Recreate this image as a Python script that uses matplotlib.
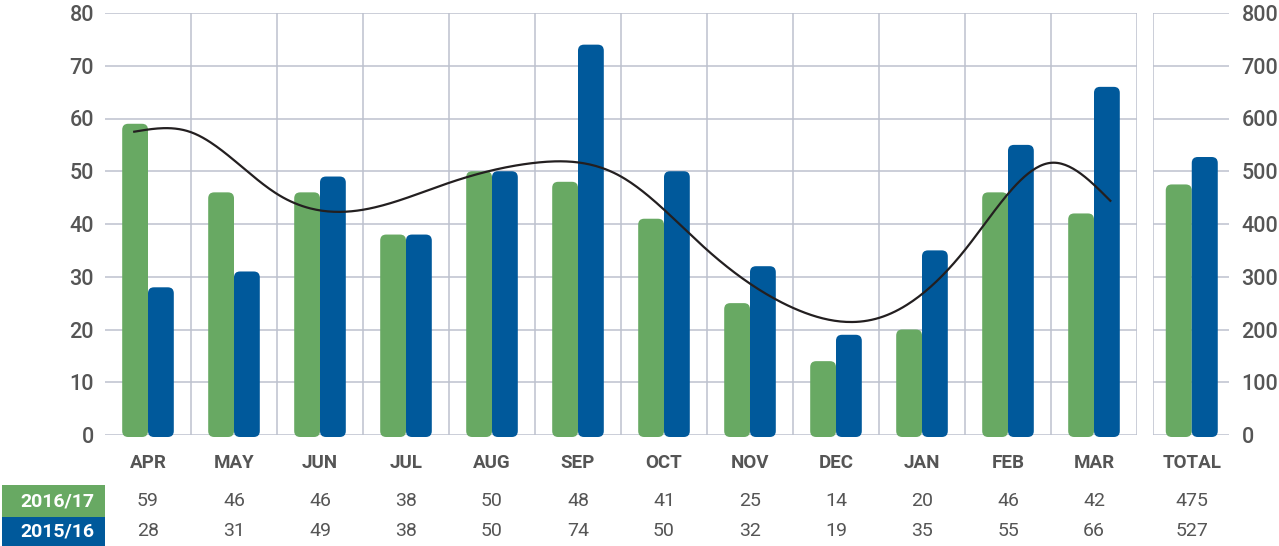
import matplotlib
matplotlib.use("Agg")
import matplotlib.pyplot as plt
from matplotlib.patches import FancyBboxPatch, Rectangle
import numpy as np

# data
months = ["APR", "MAY", "JUN", "JUL", "AUG", "SEP", "OCT", "NOV", "DEC", "JAN", "FEB", "MAR"]
series_names = ["2016/17", "2015/16"]
vals_1617 = [59, 46, 46, 38, 50, 48, 41, 25, 14, 20, 46, 42]
vals_1516 = [28, 31, 49, 38, 50, 74, 50, 32, 19, 35, 55, 66]
total_1617 = 475
total_1516 = 527

# trend line (x in category units, y on left scale)
trend_x = [-0.16, 0.5, 1.5, 2.5, 3.5, 4.5, 5.5, 6.5, 7.5, 8.5, 9.5, 10.5, 11.19]
trend_y = [57.5, 57.4, 45.7, 42.7, 47.8, 51.6, 49.0, 35.1, 24.1, 22.2, 35.1, 51.6, 44.4]

GREEN = "#68A963"
BLUE = "#00599B"
GRID = "#BDC1CE"
TEXT = "#555555"

W, H = 1279, 546
fig = plt.figure(figsize=(W / 100, H / 100), dpi=100)
plt.rcParams['font.family'] = ['Roboto', 'DejaVu Sans']


def fx(px):
    return px / W


def fy(py):
    return 1 - py / H


ax = fig.add_axes([fx(105), fy(435), fx(1137) - fx(105), fy(13) - fy(435)])
axt = fig.add_axes([fx(1153), fy(435), fx(1229) - fx(1153), fy(13) - fy(435)])

ax.set_xlim(-0.5, 11.5)
ax.set_ylim(0, 80)
axt.set_xlim(-0.5, 0.5)
axt.set_ylim(0, 800)


def natural_spline(xk, yk, xs):
    # plain natural cubic spline, just to draw the smooth curve
    xk = np.asarray(xk, float)
    yk = np.asarray(yk, float)
    n = len(xk)
    h = np.diff(xk)
    A = np.zeros((n, n))
    b = np.zeros(n)
    A[0, 0] = A[-1, -1] = 1
    for i in range(1, n - 1):
        A[i, i - 1] = h[i - 1]
        A[i, i] = 2 * (h[i - 1] + h[i])
        A[i, i + 1] = h[i]
        b[i] = 6 * ((yk[i + 1] - yk[i]) / h[i] - (yk[i] - yk[i - 1]) / h[i - 1])
    M = np.linalg.solve(A, b)
    idx = np.clip(np.searchsorted(xk, xs) - 1, 0, n - 2)
    x0, x1 = xk[idx], xk[idx + 1]
    hh = x1 - x0
    return (M[idx] * (x1 - xs) ** 3 / (6 * hh) + M[idx + 1] * (xs - x0) ** 3 / (6 * hh)
            + (yk[idx] / hh - M[idx] * hh / 6) * (x1 - xs)
            + (yk[idx + 1] / hh - M[idx + 1] * hh / 6) * (xs - x0))


def rounded_bar(a, xc, width, height, color, radius_px=6, below_px=2):
    bb = a.get_window_extent()
    x0, x1 = a.get_xlim()
    y0, y1 = a.get_ylim()
    ppx = bb.width / (x1 - x0)
    ppy = bb.height / (y1 - y0)
    r = radius_px / ppx
    bottom = -below_px / ppy
    p = FancyBboxPatch((xc - width / 2, bottom), width, height - bottom,
                       boxstyle=f"round,pad=0,rounding_size={r}",
                       mutation_aspect=ppx / ppy,
                       fc=color, ec="none", clip_on=False, zorder=3)
    a.add_patch(p)


for a in (ax, axt):
    for s in a.spines.values():
        s.set_visible(False)
    a.tick_params(length=0, colors=TEXT, labelsize=15.5)
    a.set_xticks([])

# grid
ax.set_yticks(np.arange(0, 81, 10))
ax.yaxis.grid(True, color=GRID, lw=1.1, zorder=0)
for xb in np.arange(0.5, 12, 1):
    ax.axvline(xb, color=GRID, lw=1.1, zorder=0)
ax.set_axisbelow(True)
ax.tick_params(axis="y", pad=8)

axt.set_yticks(np.arange(0, 801, 100))
axt.yaxis.tick_right()
axt.yaxis.grid(True, color=GRID, lw=1.1, zorder=0)
axt.axvline(-0.5, color=GRID, lw=1.1, zorder=0)
axt.set_axisbelow(True)
axt.tick_params(axis="y", pad=9)

for lbl in ax.get_yticklabels() + axt.get_yticklabels():
    lbl.set_fontweight("medium")

bw = 0.30
for i in range(len(months)):
    rounded_bar(ax, i - bw / 2, bw, vals_1617[i], GREEN)
    rounded_bar(ax, i + bw / 2, bw, vals_1516[i], BLUE)

tbw = 26 / 76
rounded_bar(axt, -tbw / 2 + 0.01, tbw, total_1617, GREEN)
rounded_bar(axt, tbw / 2 + 0.01, tbw, total_1516, BLUE)

# trend line
xs = np.linspace(trend_x[0], trend_x[-1], 500)
ax.plot(xs, natural_spline(trend_x, trend_y, xs), color="#231F20", lw=1.6, zorder=4)

# month labels and table
for i, m in enumerate(months):
    xf = fx(148 + 86 * i)
    fig.text(xf, fy(463), m, ha="center", va="center", fontsize=13.5, fontweight="bold", color=TEXT)
    fig.text(xf, fy(501), str(vals_1617[i]), ha="center", va="center", fontsize=14, color=TEXT)
    fig.text(xf, fy(531), str(vals_1516[i]), ha="center", va="center", fontsize=14, color=TEXT)
fig.text(fx(1192), fy(463), "TOTAL", ha="center", va="center", fontsize=13.5, fontweight="bold", color=TEXT)
fig.text(fx(1192), fy(501), str(total_1617), ha="center", va="center", fontsize=14, color=TEXT)
fig.text(fx(1192), fy(531), str(total_1516), ha="center", va="center", fontsize=14, color=TEXT)

# series label boxes
for name, col, top, bot in [(series_names[0], GREEN, 485, 517), (series_names[1], BLUE, 517, 547)]:
    fig.patches.append(Rectangle((fx(2), fy(bot)), fx(105) - fx(2), fy(top) - fy(bot),
                                 transform=fig.transFigure, fc=col, ec="none"))
    fig.text(fx(94), fy((top + bot) / 2), name, ha="right", va="center",
             fontsize=14, fontweight="bold", color="white")

fig.savefig("out.png", dpi=100)
